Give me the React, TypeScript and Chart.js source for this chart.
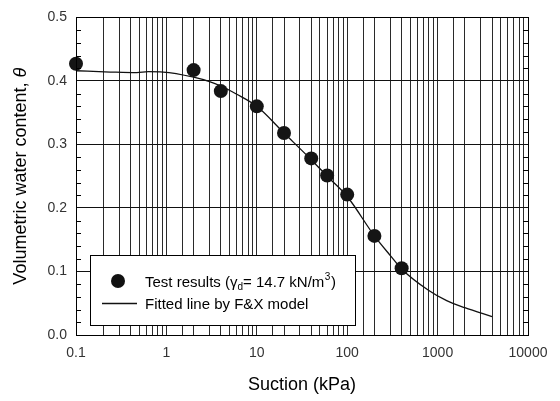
import React, { useEffect, useRef } from 'react';
import { Chart, registerables } from 'chart.js';

Chart.register(...registerables);

// Test results
const testSuction = [0.1, 2, 4, 10, 20, 40, 60, 100, 200, 400];
const testTheta = [0.427, 0.417, 0.384, 0.36, 0.318, 0.278, 0.251, 0.221, 0.156, 0.105];

// Fitted line by F&X model
const fitSuction = [0.1, 0.24, 0.47, 0.63, 0.92, 2, 3, 4, 6, 10, 20, 40, 60, 100, 200, 300, 400, 800, 1260, 2000, 4000];
const fitTheta = [0.416, 0.414, 0.413, 0.4145, 0.414, 0.406, 0.399, 0.392, 0.379, 0.36, 0.318, 0.276, 0.25, 0.218, 0.156, 0.125, 0.104, 0.07, 0.054, 0.043, 0.029];

// Tick labels
const xTickLabels = ['0.1', '1', '10', '100', '1000', '10000'];
const yTickLabels = ['0.0', '0.1', '0.2', '0.3', '0.4', '0.5'];
const yMinorTicks = [0.02, 0.04, 0.06, 0.08, 0.12, 0.14, 0.16, 0.18, 0.22, 0.24, 0.26, 0.28, 0.32, 0.34, 0.36, 0.38, 0.42, 0.44, 0.46, 0.48];

const FONT = '"Liberation Sans", Arial, Helvetica, sans-serif';

const overlayPlugin = {
  id: 'overlay',
  afterDraw(chart: any) {
    const ctx = chart.ctx as CanvasRenderingContext2D;
    const area = chart.chartArea;
    const y = chart.scales.y;
    ctx.save();
    // frame
    ctx.strokeStyle = '#000';
    ctx.lineWidth = 1;
    ctx.strokeRect(Math.round(area.left) + 0.5, Math.round(area.top) + 0.5, Math.round(area.right - area.left), Math.round(area.bottom - area.top));
    // minor y ticks (inward, both sides)
    ctx.beginPath();
    for (const v of yMinorTicks) {
      const py = Math.round(y.getPixelForValue(v)) + 0.5;
      ctx.moveTo(area.left, py);
      ctx.lineTo(area.left + 5, py);
      ctx.moveTo(area.right, py);
      ctx.lineTo(area.right - 5, py);
    }
    ctx.stroke();

    // axis titles
    ctx.fillStyle = '#000';
    ctx.textBaseline = 'middle';
    ctx.textAlign = 'center';
    ctx.font = `18px ${FONT}`;
    ctx.fillText('Suction (kPa)', (area.left + area.right) / 2, 385);

    ctx.save();
    ctx.translate(21, (area.top + area.bottom) / 2);
    ctx.rotate(-Math.PI / 2);
    const part1 = 'Volumetric water content, ';
    const part2 = 'θ';
    ctx.font = `18px ${FONT}`;
    const w1 = ctx.measureText(part1).width;
    ctx.font = `italic 18px ${FONT}`;
    const w2 = ctx.measureText(part2).width;
    const start = -(w1 + w2) / 2;
    ctx.textAlign = 'left';
    ctx.font = `18px ${FONT}`;
    ctx.fillText(part1, start, 0);
    ctx.font = `italic 18px ${FONT}`;
    ctx.fillText(part2, start + w1, 0);
    ctx.restore();

    // legend box
    const bx = 90, by = 255, bw = 265, bh = 70;
    ctx.fillStyle = '#fff';
    ctx.fillRect(bx, by, bw, bh);
    ctx.strokeStyle = '#000';
    ctx.strokeRect(bx + 0.5, by + 0.5, bw, bh);

    // marker row
    ctx.fillStyle = '#111';
    ctx.beginPath();
    ctx.arc(118, 281, 7, 0, Math.PI * 2);
    ctx.fill();

    ctx.textAlign = 'left';
    ctx.textBaseline = 'alphabetic';
    ctx.fillStyle = '#000';
    let tx = 145;
    const base1 = 287;
    ctx.font = `15px ${FONT}`;
    const s1 = 'Test results (γ';
    ctx.fillText(s1, tx, base1);
    tx += ctx.measureText(s1).width;
    ctx.font = `10px ${FONT}`;
    ctx.fillText('d', tx, base1 + 3);
    tx += ctx.measureText('d').width;
    ctx.font = `15px ${FONT}`;
    const s2 = '= 14.7 kN/m';
    ctx.fillText(s2, tx, base1);
    tx += ctx.measureText(s2).width;
    ctx.font = `10px ${FONT}`;
    ctx.fillText('3', tx + 0.5, base1 - 7);
    tx += ctx.measureText('3').width + 1;
    ctx.font = `15px ${FONT}`;
    ctx.fillText(')', tx, base1);

    // line row
    ctx.strokeStyle = '#111';
    ctx.lineWidth = 1.3;
    ctx.beginPath();
    ctx.moveTo(102, 303.5);
    ctx.lineTo(137, 303.5);
    ctx.stroke();
    ctx.fillText('Fitted line by F&X model', 145, 309);
    ctx.restore();
  },
};

export default function App() {
  const ref = useRef<HTMLCanvasElement>(null);
  useEffect(() => {
    document.body.style.margin = '0';
    const canvas = ref.current!;
    const chart = new Chart(canvas, {
      type: 'scatter',
      data: {
        datasets: [
          {
            label: 'Test results',
            data: testSuction.map((x, i) => ({ x, y: testTheta[i] })),
            showLine: false,
            pointRadius: 7,
            pointBackgroundColor: '#151515',
            pointBorderColor: '#151515',
            pointBorderWidth: 0,
            clip: false,
            order: 0,
          },
          {
            label: 'Fitted line by F&X model',
            data: fitSuction.map((x, i) => ({ x, y: fitTheta[i] })),
            showLine: true,
            pointRadius: 0,
            borderColor: '#111',
            borderWidth: 1.3,
            tension: 0.4,
            cubicInterpolationMode: 'monotone',
            clip: false,
            order: 1,
          },
        ],
      },
      options: {
        responsive: false,
        animation: false,
        layout: { padding: { top: 11, right: 32, left: 0, bottom: 0 } },
        plugins: { legend: { display: false }, tooltip: { enabled: false } },
        scales: {
          x: {
            type: 'logarithmic',
            min: 0.1,
            max: 10000,
            grid: { color: '#2a2a2a', lineWidth: 1, drawTicks: false },
            border: { display: true, color: '#000', width: 1 },
            ticks: {
              autoSkip: false,
              maxRotation: 0,
              padding: 10,
              color: '#333',
              font: { family: FONT, size: 14 },
              callback: (v: any) => {
                const lg = Math.log10(Number(v));
                const r = Math.round(lg);
                if (Math.abs(lg - r) < 1e-6) return xTickLabels[r + 1] ?? '';
                return '';
              },
            },
            afterFit: (s: any) => {
              s.height = 66;
            },
          },
          y: {
            min: 0,
            max: 0.5,
            grid: { color: '#111', lineWidth: 1, drawTicks: false },
            border: { display: true, color: '#000', width: 1 },
            ticks: {
              stepSize: 0.1,
              padding: 9,
              color: '#333',
              font: { family: FONT, size: 14 },
              callback: (v: any) => yTickLabels[Math.round(Number(v) * 10)] ?? '',
            },
            afterFit: (s: any) => {
              s.width = 76;
            },
          },
        },
      },
      plugins: [overlayPlugin],
    } as any);
    return () => chart.destroy();
  }, []);
  return (
    <div style={{ position: 'absolute', left: 0, top: 0, width: 560, height: 401, background: '#fff' }}>
      <canvas ref={ref} width={560} height={401} style={{ display: 'block', width: 560, height: 401 }} />
    </div>
  );
}
